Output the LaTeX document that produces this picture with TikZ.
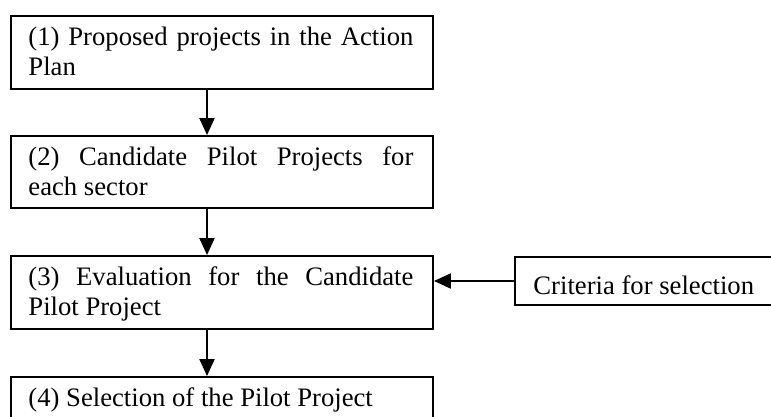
\documentclass[tikz,border=0pt]{standalone}
\usepackage{fontspec}
\setmainfont{Liberation Serif}
\usetikzlibrary{arrows.meta}
\begin{document}
\begin{tikzpicture}[x=0.45pt,y=-0.45pt,
  box/.style={draw,line width=0.9pt,rectangle,inner sep=0pt,anchor=north west},
  label/.style={anchor=base west,inner sep=0pt,font=\fontsize{12}{13.5}\selectfont},
  arr/.style={line width=0.7pt,-{Triangle[width=6.8pt,length=7.6pt]}}]
  \useasboundingbox (0,0) rectangle (771,416);
  \begin{scope}
  \clip (0,0) rectangle (771,416);
  % flow boxes
  \node[box,minimum width=422*0.45pt,minimum height=73*0.45pt] (b1) at (10,15) {};
  \node[box,minimum width=422*0.45pt,minimum height=72*0.45pt] (b2) at (10,135) {};
  \node[box,minimum width=422*0.45pt,minimum height=73*0.45pt] (b3) at (10,255) {};
  \node[box,minimum width=422*0.45pt,minimum height=120*0.45pt] (b4) at (10,376) {};
  \node[box,minimum width=280*0.45pt,minimum height=48*0.45pt] (crit) at (514,256) {};
  % texts
  \node[label] (t1) at (28,45) {\parbox[t]{173.25pt}{\makebox[\linewidth][s]{(1) Proposed projects in the Action}\\Plan}};
  \node[label] (t2) at (28,165) {\parbox[t]{173.25pt}{\makebox[\linewidth][s]{(2) Candidate Pilot Projects for}\\each sector}};
  \node[label] (t3) at (28,285) {\parbox[t]{173.25pt}{\makebox[\linewidth][s]{(3) Evaluation for the Candidate}\\Pilot Project}};
  \node[label] (t4) at (28,406) {(4) Selection of the Pilot Project};
  \node[label] (tc) at (533,294) {Criteria for selection};
  % connectors
  \coordinate (ax) at (207,0);
  \draw[arr] (b1.south -| ax) -- (b2.north -| ax);
  \draw[arr] (b2.south -| ax) -- (b3.north -| ax);
  \draw[arr] (b3.south -| ax) -- (b4.north -| ax);
  \draw[arr] (crit.west) -- (crit.west -| b3.east);
  \end{scope}
\end{tikzpicture}
\end{document}
